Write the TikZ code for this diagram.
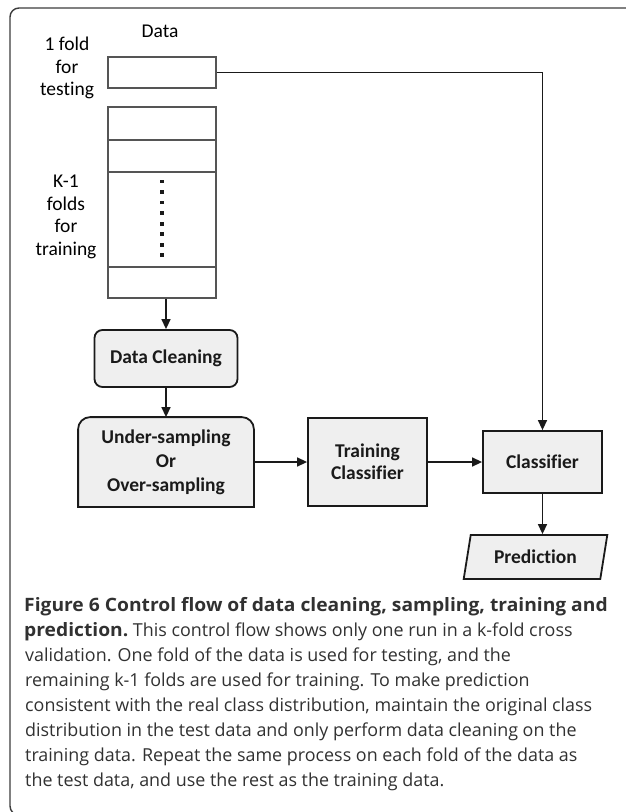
\documentclass[tikz,border=0pt]{standalone}
\usepackage{fontspec}
\setmainfont{Carlito}[RawFeature=-liga]
\newfontfamily\capfont{Open Sans}
\usetikzlibrary{arrows.meta,shapes.geometric}
\pgfdeclarelayer{background}
\pgfsetlayers{background,main}
\definecolor{boxfill}{HTML}{EFEFEF}
\definecolor{ink}{HTML}{1A1A1A}
\definecolor{foldline}{HTML}{555555}
\begin{document}
\begin{tikzpicture}[x=1pt,y=-1pt,
  proc/.style={draw=ink, line width=1.8pt, fill=boxfill, font=\bfseries\fontsize{19.5}{22}\selectfont, align=center, inner sep=0pt, text=ink},
  fold/.style={draw=foldline, line width=1.1pt, fill=white, inner sep=0pt, minimum width=108pt},
  lbl/.style={font=\fontsize{19.5}{22.7}\selectfont, align=center, text=black},
  arr/.style={draw=ink, line width=1.4pt, -{Triangle[length=10pt,width=9pt]}},
  capline/.style={anchor=base west, font=\capfont\fontsize{17.9}{25}\selectfont, text=ink!90, inner sep=0pt}]
\useasboundingbox (0,0) rectangle (625,812);
% frame
\draw[draw=ink!85, line width=1.4pt, rounded corners=9pt] (626,8) -- (10,8) -- (10,815) -- (40,815);
% labels
\node[lbl] (datalbl) at (160,31) {Data};
\node[lbl] (testlbl) at (67,68) {1 fold\\for\\testing};
\node[lbl] (trainlbl) at (66,217) {K-1\\folds\\for\\training};
% folds
\node[fold, minimum height=31pt] (test) at (162,72.5) {};
\node[fold, minimum height=33pt] (f1) at (162,123.5) {};
\node[fold, minimum height=32pt] (f2) at (162,156) {};
\node[fold, minimum height=95pt] (fmid) at (162,219.5) {};
\node[fold, minimum height=31pt] (flast) at (162,282.5) {};
\foreach \i in {0,...,7} \fill[ink] (160.2,{179.5+\i*10.57}) rectangle ++(3.8,3.8);
% process boxes
\node[proc, rounded corners=8pt, minimum width=143pt, minimum height=57pt] (dc) at (166,358.5) {Data Cleaning};
\node[proc, draw=none, fill=none, minimum width=174pt, minimum height=88pt, font=\bfseries\fontsize{19.5}{24}\selectfont] (us) at (166,462) {Under-sampling\\Or\\Over-sampling};
\begin{pgfonlayer}{background}
\filldraw[fill=boxfill, draw=ink, line width=1.8pt, rounded corners=12pt] (us.south west) -- (us.north west) -- (us.north east) -- (us.south east);
\draw[draw=ink, line width=1.8pt, line cap=rect] (us.south west) -- (us.south east);
\end{pgfonlayer}
\node[proc, minimum width=119pt, minimum height=88pt] (tc) at (367.5,462) {Training\\Classifier};
\node[proc, minimum width=119pt, minimum height=62pt] (cl) at (542.5,462) {Classifier};
\node[proc, trapezium, trapezium left angle=72, trapezium right angle=108, trapezium stretches=true, minimum width=145pt, minimum height=44pt] (pred) at (535.5,557) {Prediction};
% connectors
\draw[arr] (test.east) -| (cl.north);
\draw[arr] (flast.south -| dc.north) -- (dc.north);
\draw[arr] (dc.south) -- (us.north);
\draw[arr] (us.east) -- (tc.west);
\draw[arr] (tc.east) -- (cl.west);
\draw[arr] (cl.south) -- (cl.south |- pred.north);
% caption
\node[capline] (c1) at (24,611) {\scalebox{1.075}[1.03]{\bfseries Figure 6 Control flow of data cleaning, sampling, training and}};
\node[capline] (c2) at (24,636) {\scalebox{1.075}[1.03]{\bfseries prediction.} This control flow shows only one run in a k-fold cross};
\node[capline] (c3) at (25,661) {validation. One fold of the data is used for testing, and the};
\node[capline] (c4) at (25,686) {remaining k-1 folds are used for training. To make prediction};
\node[capline] (c5) at (25,711) {consistent with the real class distribution, maintain the original class};
\node[capline] (c6) at (25,736) {distribution in the test data and only perform data cleaning on the};
\node[capline] (c7) at (25,761) {training data. Repeat the same process on each fold of the data as};
\node[capline] (c8) at (25,786) {the test data, and use the rest as the training data.};
\end{tikzpicture}
\end{document}
